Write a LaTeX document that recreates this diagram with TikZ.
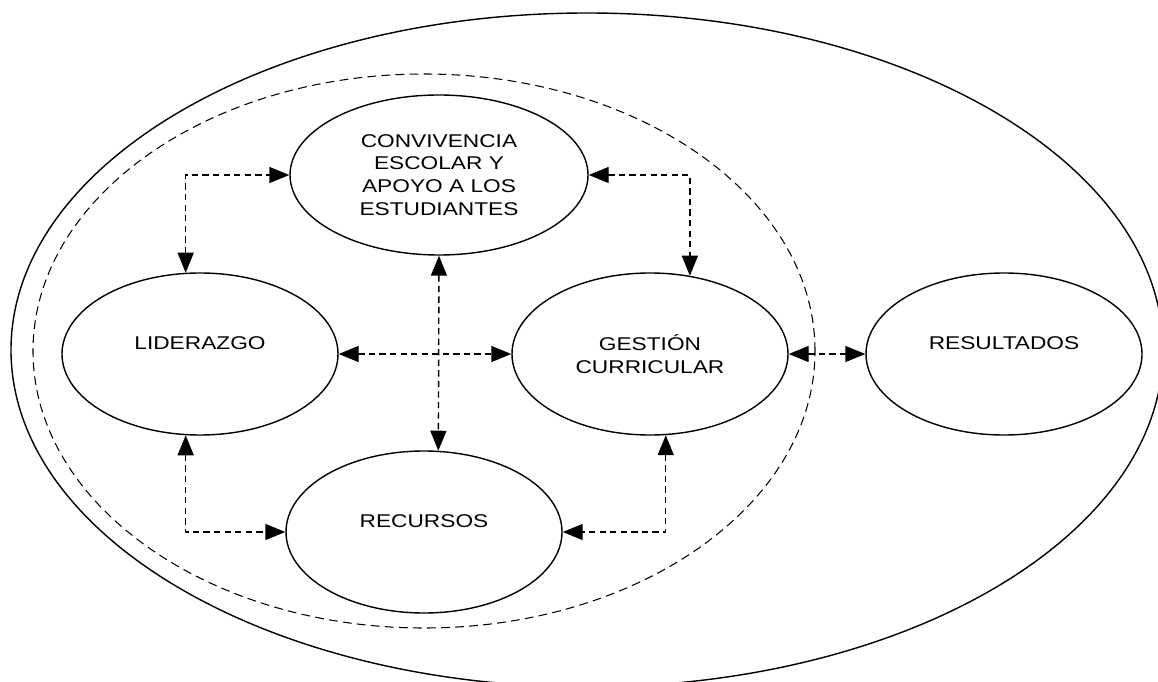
\documentclass[tikz,border=0pt]{standalone}
\usepackage{fontspec}
\setmainfont{Liberation Sans}[FakeStretch=1.23]
\usetikzlibrary{arrows.meta,shapes.geometric,positioning}

\begin{document}
\begin{tikzpicture}[>={Triangle[length=4mm,width=3.2mm]},line width=0.8pt,
  on grid,node distance=4cm,
  area node/.style={ellipse,draw,minimum width=5.52cm,minimum height=3.24cm,
  inner sep=0pt,align=center,font=\fontsize{10.5}{13}\selectfont},
  link/.style={<->,dash pattern=on 3.6pt off 2.4pt}]

  \useasboundingbox (0,0) rectangle (23.16,13.62);

  % outer context and the dashed school management area
  \draw (11.74,6.62) ellipse (11.52 and 6.74);
  \draw[line width=0.6pt,dash pattern=on 5pt off 3pt] (8.48,6.60) ellipse (7.82 and 5.54);

  \node[area node] (lid) at (4,6.54) {LIDERAZGO\\\mbox{}};
  \node[area node] (gest) [right=9cm of lid] {GESTIÓN\\CURRICULAR};
  \node[area node] (res) [right=7.08cm of gest] {RESULTADOS\\\mbox{}};
  \node[area node, minimum width=5.96cm, minimum height=3.2cm] (conv)
    [above right=3.58cm and 4.78cm of lid]
    {CONVIVENCIA\\ESCOLAR Y\\APOYO A LOS\\ESTUDIANTES};
  \node[area node] (rec) [below right=3.56cm and 4.48cm of lid] {RECURSOS\\\mbox{}};

  \draw[link] (lid.100) |- (conv);
  \draw[link] (conv) -| (gest.63);
  \draw[link] (conv.south) -- (rec.80);
  \draw[link] (lid) -- (gest);
  \draw[link] (lid.260) |- (rec);
  \draw[link] (gest.281) |- (rec);
  \draw[link] (gest) -- (res);
\end{tikzpicture}
\end{document}
